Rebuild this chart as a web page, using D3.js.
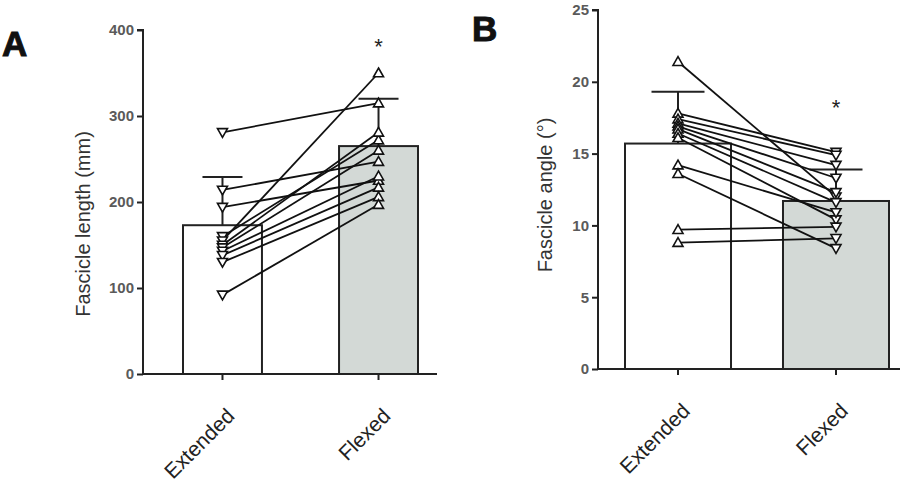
<!DOCTYPE html>
<html>
<head>
<meta charset="utf-8">
<script src="https://cdn.jsdelivr.net/npm/d3@7"></script>
<style>
  body { margin: 0; background: #fff; }
  svg { font-family: "Liberation Sans", Arial, sans-serif; }
</style>
</head>
<body>
<script>
const W = 917;
const H = 490;

const categories = ["Extended", "Flexed"];

// panel A - fascicle length (mm)
const lengthExtended = [281, 214, 194, 160, 155, 150, 147, 143, 138, 130, 92];
const lengthFlexed   = [315, 247, 225, 272, 350, 281, 260, 230, 217, 206, 197];
const lengthMean = [173, 265];
const lengthSD   = [56, 55];
const lengthTicks = [0, 100, 200, 300, 400];

// panel B - fascicle angle (deg)
const angleExtended = [21.4, 17.8, 17.4, 17.1, 16.9, 16.7, 16.4, 16.1, 14.2, 13.6, 9.7, 8.8];
const angleFlexed   = [12.0, 15.1, 14.9, 14.2, 13.3, 12.3, 11.6, 10.4, 10.9, 8.4, 9.9, 9.1];
const angleMean = [15.7, 11.7];
const angleSD   = [3.6, 2.2];
const angleTicks = [0, 5, 10, 15, 20, 25];

const barFill = ["#ffffff", "#d3d9d6"];

const svg = d3.select("body")
  .append("svg")
  .attr("width", W)
  .attr("height", H);

function triangle(cx, cy, up) {
  const s = 5;
  return up
    ? `M${cx},${cy - s} L${cx + s},${cy + s * 0.75} L${cx - s},${cy + s * 0.75} Z`
    : `M${cx},${cy + s} L${cx + s},${cy - s * 0.75} L${cx - s},${cy - s * 0.75} Z`;
}

function drawPanel(cfg) {
  const g = svg.append("g");

  const y = d3.scaleLinear()
    .domain([0, cfg.max])
    .range([cfg.y0, cfg.y1]);

  const x = d3.scaleBand()
    .domain(categories)
    .range(cfg.barRange)
    .paddingInner(cfg.pad)
    .paddingOuter(0);

  const bw = x.bandwidth();
  const cx = c => x(c) + bw / 2;

  // bars
  g.selectAll(".bar")
    .data(categories)
    .enter()
    .append("rect")
    .attr("x", d => x(d))
    .attr("y", (d, i) => y(cfg.mean[i]))
    .attr("width", bw)
    .attr("height", (d, i) => y(0) - y(cfg.mean[i]))
    .attr("fill", (d, i) => barFill[i])
    .attr("stroke", "#222")
    .attr("stroke-width", 2);

  // error bars (upper only)
  categories.forEach((c, i) => {
    g.append("line")
      .attr("x1", cx(c)).attr("x2", cx(c))
      .attr("y1", y(cfg.mean[i])).attr("y2", y(cfg.mean[i] + cfg.sd[i]))
      .attr("stroke", "#222").attr("stroke-width", 2);
    g.append("line")
      .attr("x1", cx(c) - cfg.cap / 2).attr("x2", cx(c) + cfg.cap / 2)
      .attr("y1", y(cfg.mean[i] + cfg.sd[i])).attr("y2", y(cfg.mean[i] + cfg.sd[i]))
      .attr("stroke", "#222").attr("stroke-width", 2);
  });

  // paired lines
  const pairs = cfg.a.map((v, i) => [v, cfg.b[i]]);
  g.selectAll(".pair")
    .data(pairs)
    .enter()
    .append("line")
    .attr("x1", cx(categories[0]))
    .attr("x2", cx(categories[1]))
    .attr("y1", d => y(d[0]))
    .attr("y2", d => y(d[1]))
    .attr("stroke", "#111")
    .attr("stroke-width", 1.8);

  // markers
  [cfg.a, cfg.b].forEach((vals, k) => {
    g.selectAll(".m" + k)
      .data(vals)
      .enter()
      .append("path")
      .attr("d", d => triangle(cx(categories[k]), y(d), cfg.up[k]))
      .attr("fill", "#fff")
      .attr("stroke", "#111")
      .attr("stroke-width", 1.6);
  });

  // axes
  const yAxis = d3.axisLeft(y)
    .tickValues(cfg.ticks)
    .tickSize(6)
    .tickPadding(3);
  const ya = g.append("g")
    .attr("transform", `translate(${cfg.axisX},0)`)
    .call(yAxis);
  ya.select(".domain").attr("stroke", "#222").attr("stroke-width", 2).attr("d", `M-6,${cfg.y1}H0V${cfg.y0}`);
  ya.selectAll(".tick line").attr("stroke", "#222").attr("stroke-width", 2);
  ya.selectAll(".tick text")
    .attr("fill", "#5a5a5a")
    .style("font-size", "15px")
    .style("font-weight", "bold");

  const xAxis = d3.axisBottom(x).tickSize(6).tickFormat("");
  const xa = g.append("g")
    .attr("transform", `translate(0,${cfg.y0})`)
    .call(xAxis);
  xa.select(".domain").attr("stroke", "#222").attr("stroke-width", 2)
    .attr("d", `M${cfg.axisX},0H${cfg.axisEnd}`);
  xa.selectAll(".tick line").attr("stroke", "#222").attr("stroke-width", 2);

  // category labels
  categories.forEach(c => {
    g.append("text")
      .attr("transform", `translate(${cx(c) + cfg.labDx},${cfg.y0 + 38}) rotate(-45)`)
      .attr("text-anchor", "end")
      .attr("dy", "0.35em")
      .attr("fill", "#222")
      .style("font-size", "21px")
      .text(c);
  });

  // y title
  g.append("text")
    .attr("transform", `translate(${cfg.titleX},${cfg.titleY}) rotate(-90)`)
    .attr("text-anchor", "middle")
    .attr("fill", "#333")
    .style("font-size", "20px")
    .text(cfg.title);

  // panel letter
  g.append("text")
    .attr("x", cfg.letterX)
    .attr("y", cfg.letterY)
    .attr("fill", "#111")
    .attr("stroke", "#111")
    .attr("stroke-width", 1)
    .style("font-size", "35px")
    .style("font-weight", "bold")
    .text(cfg.letter);

  // significance star
  g.append("text")
    .attr("x", cx(categories[1]))
    .attr("y", y(cfg.starAt))
    .attr("text-anchor", "middle")
    .attr("fill", "#222")
    .style("font-size", "22px")
    .text("*");
}

drawPanel({
  a: lengthExtended, b: lengthFlexed, mean: lengthMean, sd: lengthSD,
  ticks: lengthTicks, max: 400, y0: 374, y1: 30,
  barRange: [183, 418], pad: 0.494, cap: 40,
  axisX: 143, axisEnd: 437, up: [false, true],
  labDx: 8, title: "Fascicle length (mm)", titleX: 90, titleY: 224,
  letter: "A", letterX: 2, letterY: 56, starAt: 372
});

drawPanel({
  a: angleExtended, b: angleFlexed, mean: angleMean, sd: angleSD,
  ticks: angleTicks, max: 25, y0: 369, y1: 10,
  barRange: [625, 889], pad: 0.329, cap: 53,
  axisX: 598, axisEnd: 900, up: [true, false],
  labDx: 8, title: "Fascicle angle (°)", titleX: 552, titleY: 195,
  letter: "B", letterX: 472, letterY: 41, starAt: 17.7
});
</script>
</body>
</html>
